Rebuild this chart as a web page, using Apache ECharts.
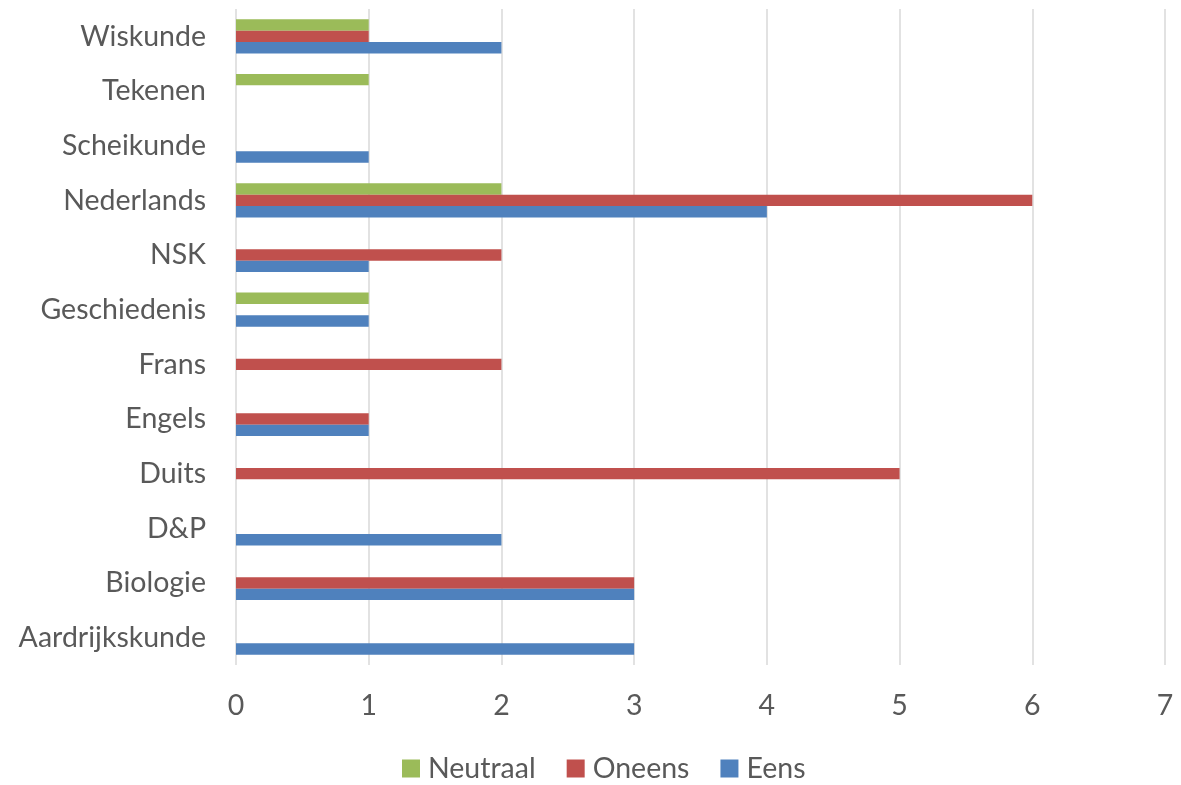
<!DOCTYPE html>
<html><head><meta charset="utf-8">
<script src="https://cdn.jsdelivr.net/npm/echarts@6/dist/echarts.min.js"></script>
<style>html,body{margin:0;padding:0;background:#fff}#c{width:1181px;height:785px}</style>
</head><body><div id="c"></div>
<script>
const categories = ['Aardrijkskunde','Biologie','D&P','Duits','Engels','Frans','Geschiedenis','NSK','Nederlands','Scheikunde','Tekenen','Wiskunde'];
const eens     = [3,3,2,0,1,0,1,1,4,1,0,2];
const oneens   = [0,3,0,5,1,2,0,2,6,0,0,1];
const neutraal = [0,0,0,0,0,0,1,0,2,0,1,1];
const xTicks = [0,1,2,3,4,5,6,7];

const font = 'Lato, "Open Sans", sans-serif';
const chart = echarts.init(document.getElementById('c'), null, {renderer:'canvas'});
chart.setOption({
  animation:false,
  textStyle:{fontFamily:font},
  grid:{left:236, right:16, top:9, bottom:120, containLabel:false},
  legend:{
    data:['Neutraal','Oneens','Eens'],
    top:749, left:397,
    itemWidth:18, itemHeight:18, itemGap:31, icon:'rect',
    textStyle:{fontSize:28.5, color:'#595959', fontFamily:font, padding:[0,0,0,3]}
  },
  xAxis:{
    type:'value', min:xTicks[0], max:xTicks[xTicks.length-1], interval:1,
    axisLine:{show:false}, axisTick:{show:false},
    axisLabel:{fontSize:28.5, color:'#595959', margin:26, fontFamily:font},
    splitLine:{lineStyle:{color:'#d9d9d9', width:1.5}}
  },
  yAxis:{
    type:'category', data:categories,
    axisLine:{show:false}, axisTick:{show:false},
    axisLabel:{fontSize:28.5, color:'#595959', margin:30, fontFamily:font},
    splitLine:{show:false}
  },
  series:[
    {name:'Neutraal', type:'bar', data:neutraal, itemStyle:{color:'#9BBB59'}, barWidth:11.4, barGap:'0%', barCategoryGap:'37%'},
    {name:'Oneens', type:'bar', data:oneens, itemStyle:{color:'#C0504D'}, barWidth:11.4, barGap:'0%'},
    {name:'Eens', type:'bar', data:eens, itemStyle:{color:'#4F81BD'}, barWidth:11.4, barGap:'0%'}
  ]
});
</script></body></html>
